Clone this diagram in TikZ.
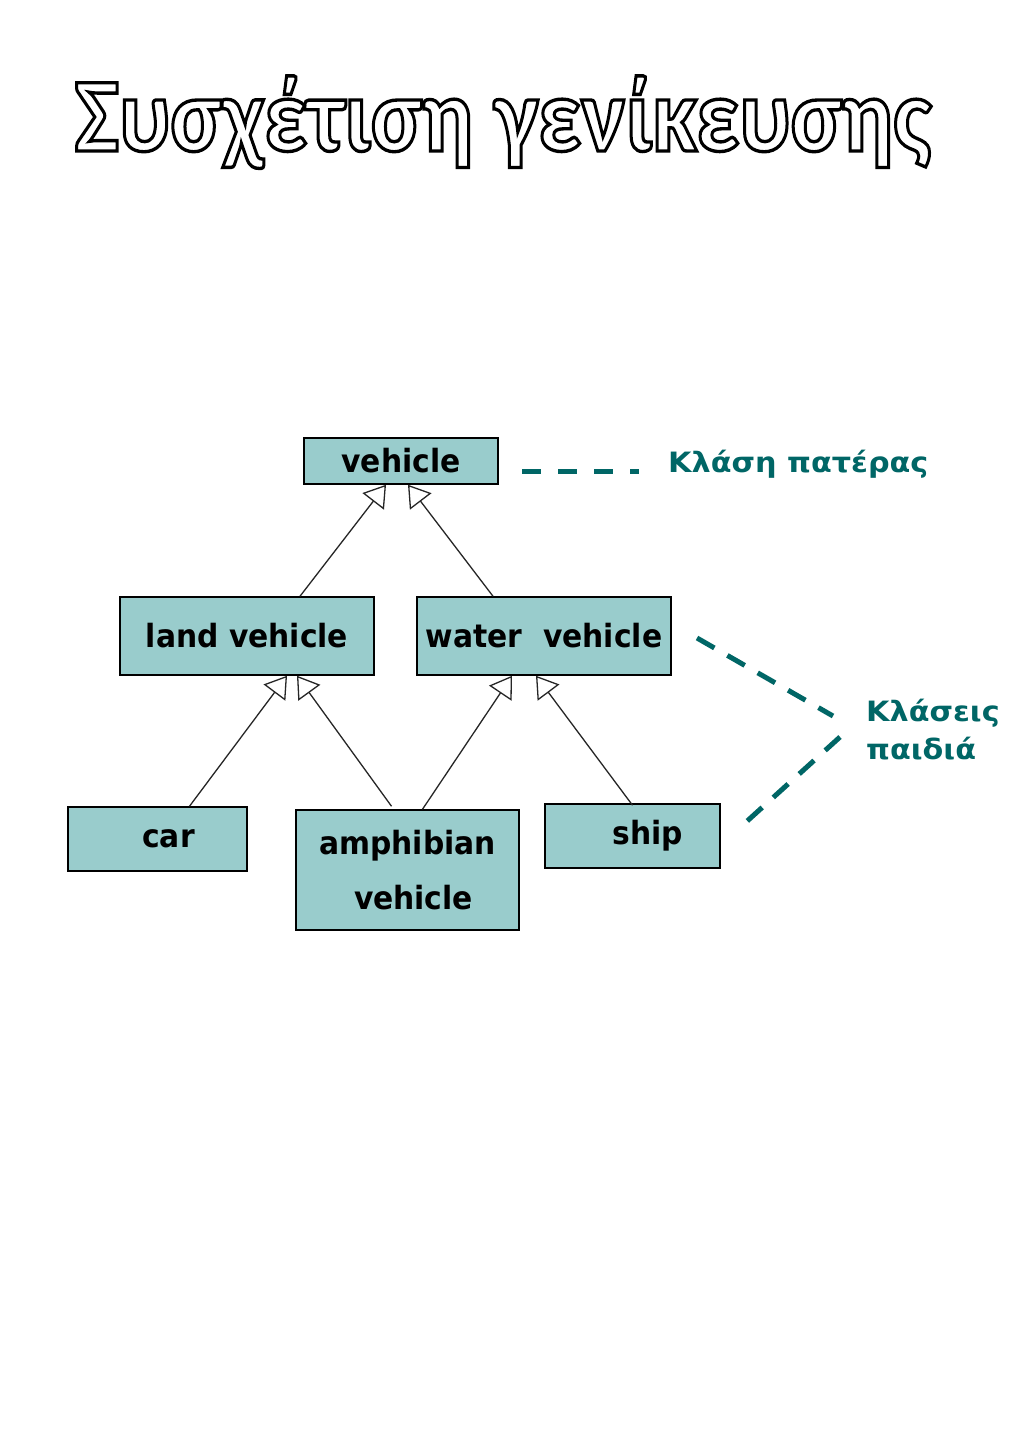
\documentclass[tikz,border=0pt]{standalone}
\usepackage{fontspec}
\usetikzlibrary{arrows.meta,calc}
\newfontfamily\titlefont{Carlito}
\newfontfamily\boxfont{DejaVu Sans}[FakeStretch=0.93]
\newfontfamily\labfont{DejaVu Sans}[FakeStretch=1.08]
\definecolor{boxfill}{HTML}{99CCCC}
\definecolor{tealtext}{HTML}{006666}
\newcommand\outlinetext[1]{\special{pdf:literal direct 1 Tr 3 w}#1\special{pdf:literal direct 0 Tr}}
\tikzset{
  cls/.style={draw=black, line width=1.5pt, fill=boxfill, inner sep=0pt,
    font=\boxfont\bfseries\fontsize{32}{55}\selectfont, text=black},
  gen/.style={draw=black!85, line width=1.3pt,
    -{Triangle[open, length=21pt, width=27pt, line width=1.3pt]}},
  note/.style={draw=tealtext, line width=5pt, dash pattern=on 19pt off 17pt},
  lab/.style={font=\labfont\bfseries\fontsize{28}{38}\selectfont, text=tealtext, inner sep=0pt}
}
\begin{document}
\begin{tikzpicture}[x=1pt,y=-1pt]
\useasboundingbox[fill=white] (0,0) rectangle (1024,1448);
% title
\node[font=\titlefont\bfseries\fontsize{94}{94}\selectfont, anchor=base, inner sep=0pt, text=black] (title) at (503,151)
  {\scalebox{1}[1.12]{\outlinetext{Συσχέτιση γενίκευσης}}};
% class boxes
\node[cls, minimum width=194pt, minimum height=46pt] (vehicle) at (401,461) {vehicle};
\node[cls, minimum width=254pt, minimum height=78pt] (land) at (247,636) {land vehicle};
\node[cls, minimum width=254pt, minimum height=78pt] (water) at (544,636) {water\ \ vehicle};
\node[cls, minimum width=179pt, minimum height=64pt, text width=179pt, align=center] (car) at (157.5,839) {\hspace*{22pt}car};
\node[cls, minimum width=223pt, minimum height=120pt, text width=223pt, align=center] (amph) at (407.5,870) {amphibian\\\hspace*{12pt}vehicle};
\node[cls, minimum width=175pt, minimum height=64pt, text width=175pt, align=center] (ship) at (632.5,836) {\hspace*{30pt}ship};
% generalisation connectors
\draw[gen] ([xshift=53pt]land.north) -- ([xshift=-15pt]vehicle.south);
\draw[gen] ([xshift=-51pt]water.north) -- ([xshift=7pt]vehicle.south);
\draw[gen] ([xshift=32pt]car.north) -- ([xshift=40pt]land.south);
\draw[gen] ([xshift=-16pt,yshift=3pt]amph.north) -- ([xshift=50pt]land.south);
\draw[gen] ([xshift=15pt]amph.north) -- ([xshift=-32pt]water.south);
\draw[gen] ([xshift=0pt,yshift=-2pt]ship.north) -- ([xshift=-8pt]water.south);
% annotations
\node[lab, anchor=base west] (parent) at (668,472) {Κλάση πατέρας};
\node[lab, anchor=north west, align=left] (children) at (866,699) {Κλάσεις\\παιδιά};
\coordinate (d1a) at (522,471);
\coordinate (d1b) at (639,471);
\coordinate (d2a) at (697,638);
\coordinate (d2b) at (833,716);
\coordinate (d3a) at (840,737);
\coordinate (d3b) at (745,823);
\draw[note] (d1a) -- (d1b);
\draw[note, dash pattern=on 20pt off 15pt] (d2a) -- (d2b);
\draw[note, dash pattern=on 20pt off 15pt] (d3a) -- (d3b);
\end{tikzpicture}
\end{document}
